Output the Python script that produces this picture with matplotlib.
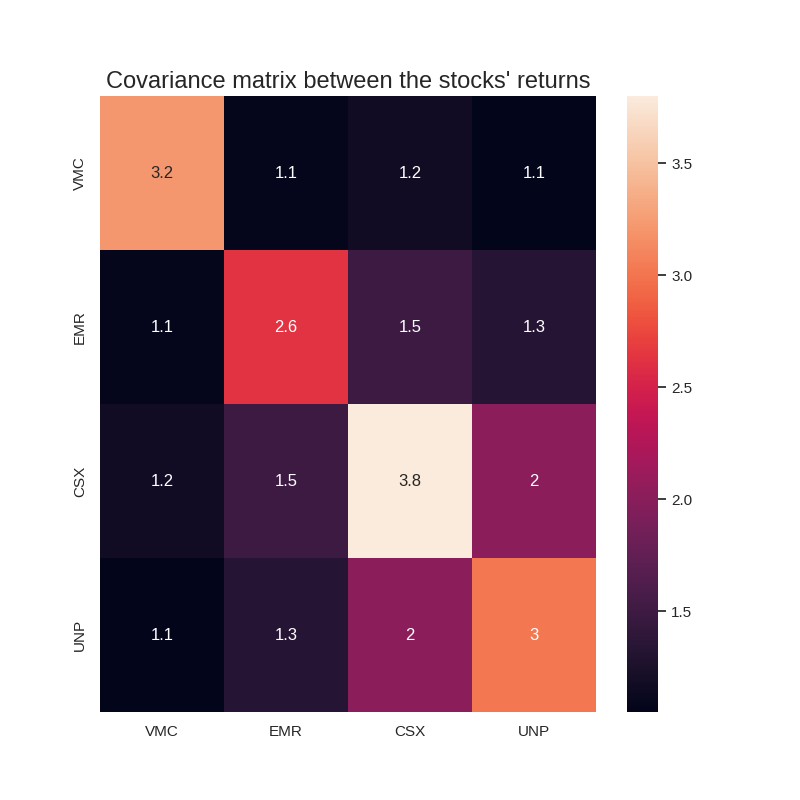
import numpy as np
import pandas as pd
import matplotlib
matplotlib.use("Agg")
import matplotlib.pyplot as plt
import seaborn as sns

tickers = ["VMC", "EMR", "CSX", "UNP"]
row_vmc = [3.21, 1.08, 1.17, 1.05]
row_emr = [1.08, 2.62, 1.49, 1.32]
row_csx = [1.17, 1.49, 3.80, 2.02]
row_unp = [1.05, 1.32, 2.02, 3.02]

cov = pd.DataFrame([row_vmc, row_emr, row_csx, row_unp], index=tickers, columns=tickers)

sns.set_theme(style="white")
plt.rcParams['font.family'] = ['Liberation Sans', 'DejaVu Sans']

fig, ax = plt.subplots(figsize=(8, 8), dpi=100)
sns.heatmap(cov, annot=True, ax=ax)
ax.set_title("Covariance matrix between the stocks' returns", fontsize=17)
fig.savefig("out.png")
